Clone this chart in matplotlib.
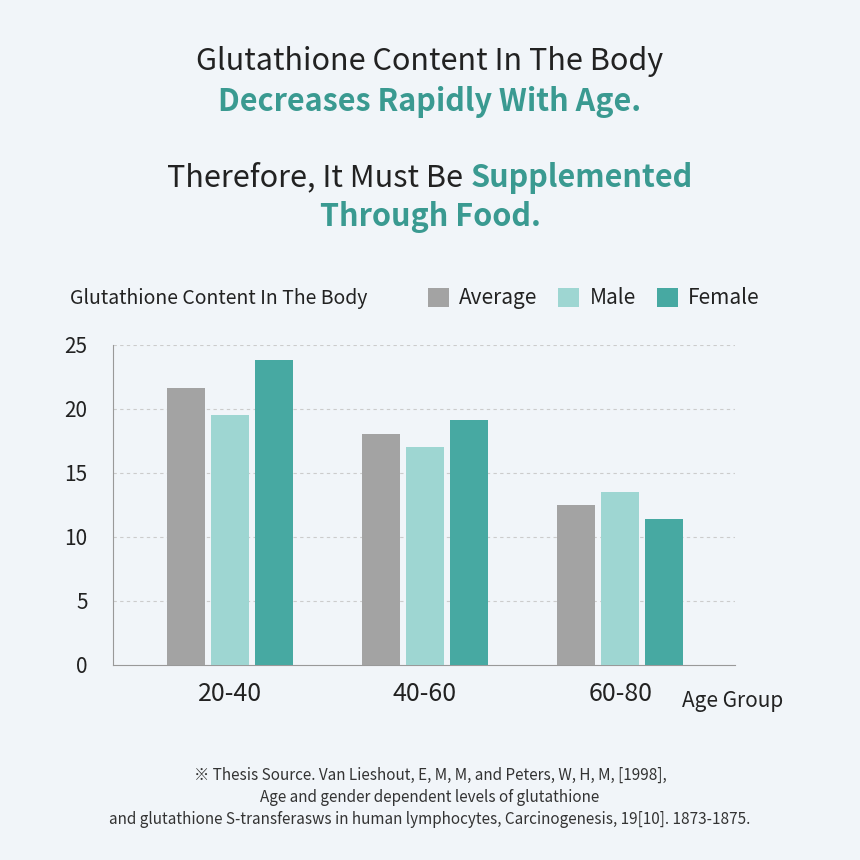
import matplotlib.pyplot as plt
import numpy as np

plt.rcParams['font.family'] = ['Noto Sans CJK KR', 'DejaVu Sans']

groups = ["20-40", "40-60", "60-80"]
average = [21.6, 18.0, 12.5]
male = [19.5, 17.0, 13.5]
female = [23.8, 19.1, 11.4]
series_names = ["Average", "Male", "Female"]
colors = ["#a3a3a3", "#9ed6d2", "#47a9a2"]
yticks = [0, 5, 10, 15, 20, 25]

BG = "#f1f5f9"
DARK = "#222222"
TEAL = "#3a9a91"

fig = plt.figure(figsize=(8.6, 8.6), dpi=100, facecolor=BG)
ax = fig.add_axes([0.131, 0.227, 0.724, 0.372], facecolor=BG)

x = np.arange(len(groups))
w = 0.195
off = 0.226
bars = []
for i, (vals, name) in enumerate(zip([average, male, female], series_names)):
    bars.append(ax.bar(x + (i - 1) * off, vals, w, color=colors[i], label=name, zorder=3))

ax.set_xlim(-0.6, 2.59)
ax.set_ylim(0, 25)
ax.set_yticks(yticks)
ax.set_yticklabels([str(t) for t in yticks], fontsize=15, color=DARK)
ax.set_xticks(x, groups, fontsize=18, color=DARK)
ax.tick_params(length=0)
ax.tick_params(axis='y', pad=18)
ax.tick_params(axis='x', pad=12)
for t in yticks[1:]:
    ax.axhline(t, color="#cccccc", ls=(0, (3, 3)), lw=0.8, zorder=1)
for s in ["top", "right"]:
    ax.spines[s].set_visible(False)
for s in ["left", "bottom"]:
    ax.spines[s].set_color("#999999")

ax.legend(loc="center right", bbox_to_anchor=(0.905, 0.653), bbox_transform=fig.transFigure,
          ncol=3, frameon=False, fontsize=15, handlelength=1.0, handleheight=1.0,
          columnspacing=1.0, handletextpad=0.5, labelcolor=DARK)

fig.text(0.081, 0.653, "Glutathione Content In The Body", fontsize=14, color=DARK, va="center")
fig.text(0.793, 0.185, "Age Group", fontsize=15, color=DARK, va="center")

fig.canvas.draw()
r = fig.canvas.get_renderer()

def two_tone(y, parts, size, weight="normal"):
    ts = []
    for txt, c, wt in parts:
        ts.append(fig.text(0, y, txt, fontsize=size, color=c, weight=wt, va="center"))
    widths = [t.get_window_extent(r).width / fig.bbox.width for t in ts]
    start = 0.5 - sum(widths) / 2
    for t, wd in zip(ts, widths):
        t.set_x(start)
        start += wd

two_tone(0.928, [("Glutathione Content In The Body", DARK, "normal")], 22)
two_tone(0.881, [("Decreases Rapidly With Age.", TEAL, "bold")], 22)
two_tone(0.793, [("Therefore, It Must Be ", DARK, "normal"), ("Supplemented", TEAL, "bold")], 22)
two_tone(0.748, [("Through Food.", TEAL, "bold")], 22)

foot = ["※ Thesis Source. Van Lieshout, E, M, M, and Peters, W, H, M, [1998],",
        "Age and gender dependent levels of glutathione",
        "and glutathione S-transferasws in human lymphocytes, Carcinogenesis, 19[10]. 1873-1875."]
for i, line in enumerate(foot):
    fig.text(0.5, 0.099 - i * 0.026, line, fontsize=11, color="#333333", ha="center", va="center")

fig.savefig("out.png", dpi=100, facecolor=BG)
